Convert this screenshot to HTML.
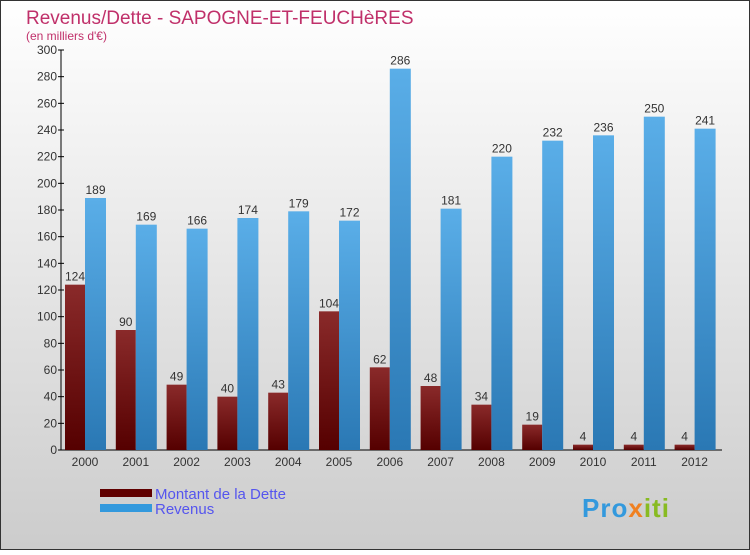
<!DOCTYPE html>
<html><head><meta charset="utf-8"><style>
body{margin:0;width:750px;height:550px;overflow:hidden;font-family:"Liberation Sans",sans-serif}
</style></head><body>
<svg width="750" height="550" xmlns="http://www.w3.org/2000/svg">
<defs>
<linearGradient id="bg" x1="0" y1="0" x2="0" y2="1"><stop offset="0" stop-color="#ffffff"/><stop offset="1" stop-color="#cccccc"/></linearGradient>
<linearGradient id="gd" x1="0" y1="0" x2="0" y2="1"><stop offset="0" stop-color="#8a2a2a"/><stop offset="1" stop-color="#550000"/></linearGradient>
<linearGradient id="gr" x1="0" y1="0" x2="0" y2="1"><stop offset="0" stop-color="#5aaee8"/><stop offset="1" stop-color="#2a78b4"/></linearGradient>
</defs>
<rect x="0.5" y="0.5" width="749" height="549" fill="url(#bg)" stroke="#333"/>
<text x="26" y="24" font-size="19" fill="#c0306a">Revenus/Dette - SAPOGNE-ET-FEUCHèRES</text>
<text x="26" y="40" font-size="12" fill="#c0306a">(en milliers d'€)</text>
<g id="axes"></g>
<g id="bars"></g>
<rect x="100" y="489" width="52" height="8" fill="#600000"/>
<rect x="100" y="504" width="52" height="8" fill="#3399dd"/>
<text x="155" y="499" font-size="15" fill="#5555ee">Montant de la Dette</text>
<text x="155" y="514" font-size="15" fill="#5555ee">Revenus</text>
<text x="582" y="517" font-size="26" font-weight="bold" fill="#3399dd" letter-spacing="1">Pro<tspan fill="#f08020">x</tspan><tspan fill="#88bb22">iti</tspan></text>
</svg>
<script>
const years=["2000","2001","2002","2003","2004","2005","2006","2007","2008","2009","2010","2011","2012"];
const dette=[124,90,49,40,43,104,62,48,34,19,4,4,4];
const revenus=[189,169,166,174,179,172,286,181,220,232,236,250,241];
const yTicks=[0,20,40,60,80,100,120,140,160,180,200,220,240,260,280,300];
const NS="http://www.w3.org/2000/svg";
const y0=450,yTop=50,x0=61;
function yS(v){return y0-(v/300)*(y0-yTop);}
function xS(i){return 65+i*50.8;}
function mk(t,a,p){const e=document.createElementNS(NS,t);for(const k in a)e.setAttribute(k,a[k]);p.appendChild(e);return e;}
const ax=document.getElementById('axes'),bg=document.getElementById('bars');
let l=mk('line',{x1:x0,y1:yTop,x2:x0,y2:y0,stroke:'#000'},ax);


l=mk('line',{x1:x0,y1:y0,x2:722,y2:y0,stroke:'#000'},ax);


yTicks.forEach(v=>{
 const t=mk('line',{x1:x0-3,x2:x0+3,y1:yS(v),y2:yS(v),stroke:'#000'},ax);
 
 
 const tx=mk('text',{x:x0-4,y:yS(v)+4,'font-size':12,'text-anchor':'end',fill:'#333'},ax);
 tx.textContent=v;
 
 
});
years.forEach((yr,i)=>{
 const x=xS(i);
 const d=mk('rect',{x:x,y:yS(dette[i]),width:20,height:y0-yS(dette[i]),fill:'url(#gd)'},bg);
 
 
 const r=mk('rect',{x:x+20,y:yS(revenus[i]),width:21,height:y0-yS(revenus[i]),fill:'url(#gr)'},bg);
 
 
 let t=mk('text',{x:x+10,y:yS(dette[i])-4,'font-size':12,'text-anchor':'middle',fill:'#333'},bg);
 t.textContent=dette[i];
 
 
 t=mk('text',{x:x+30.5,y:yS(revenus[i])-4,'font-size':12,'text-anchor':'middle',fill:'#333'},bg);
 t.textContent=revenus[i];
 
 
 t=mk('text',{x:x+20,y:466,'font-size':12,'text-anchor':'middle',fill:'#333'},bg);
 t.textContent=yr;
 
 
});
</script>
</body></html>
